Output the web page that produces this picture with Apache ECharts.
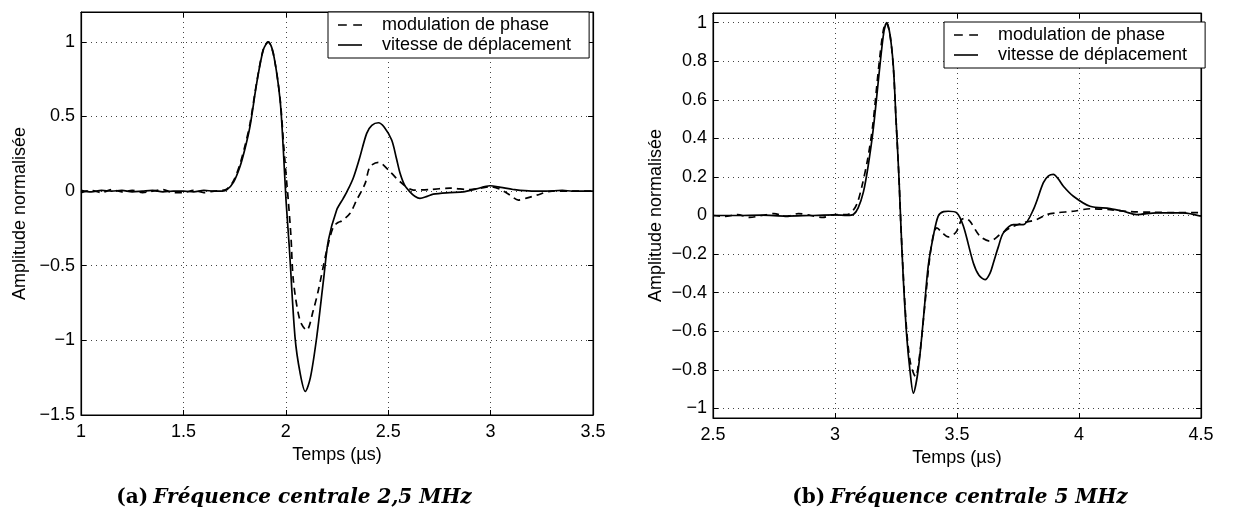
<!DOCTYPE html>
<html>
<head>
<meta charset="utf-8">
<script src="https://cdn.jsdelivr.net/npm/echarts@6/dist/echarts.min.js"></script>
<style>
html,body{margin:0;padding:0;background:#fff;}
#chart{width:1252px;height:516px;}
</style>
</head>
<body>
<div id="chart"></div>
<script>
// ---- Data ----
// (a) 2,5 MHz
const aPhaseTime = [1.0,1.05,1.1,1.15,1.2,1.25,1.3,1.35,1.4,1.45,1.5,1.55,1.6,1.65,1.69,1.713,1.745,1.776,1.8,1.825,1.858,1.89,1.913,1.939,1.972,1.99,2.005,2.012,2.025,2.037,2.069,2.102,2.134,2.159,2.2,2.232,2.255,2.273,2.313,2.346,2.387,2.411,2.452,2.509,2.558,2.623,2.7,2.8,2.9,2.95,3.0,3.05,3.095,3.136,3.18,3.225,3.3,3.4,3.5];
const aPhase = [-0.01,0.005,-0.01,0.01,-0.005,0.005,-0.01,0.0,0.01,-0.01,-0.01,0.005,-0.01,0.0,0.005,0.015,0.07,0.18,0.3,0.45,0.73,0.95,1.0,0.92,0.62,0.3,0.05,-0.06,-0.3,-0.6,-0.866,-0.933,-0.8,-0.664,-0.396,-0.24,-0.21,-0.2,-0.15,-0.06,0.05,0.163,0.193,0.13,0.063,0.007,0.01,0.02,0.01,0.02,0.03,0.01,-0.027,-0.06,-0.045,-0.027,0.0,0.0,0.0];
const aSpeedTime = [1.0,1.05,1.1,1.15,1.2,1.25,1.3,1.35,1.4,1.45,1.5,1.55,1.6,1.65,1.69,1.713,1.745,1.776,1.8,1.825,1.858,1.89,1.915,1.939,1.972,1.988,2.001,2.017,2.045,2.07,2.095,2.12,2.151,2.184,2.208,2.248,2.28,2.3,2.33,2.36,2.395,2.42,2.452,2.48,2.517,2.54,2.558,2.58,2.606,2.63,2.655,2.69,2.72,2.8,2.867,2.93,2.997,3.05,3.11,3.2,3.27,3.35,3.4,3.5];
const aSpeed = [0.005,-0.005,0.005,0.0,0.005,-0.005,0.0,0.005,-0.005,0.0,0.0,-0.005,0.005,0.0,0.0,0.01,0.06,0.163,0.28,0.432,0.723,0.946,1.0,0.924,0.611,0.275,-0.06,-0.374,-0.978,-1.22,-1.342,-1.25,-0.978,-0.597,-0.329,-0.128,-0.05,0.0,0.09,0.22,0.387,0.44,0.458,0.43,0.342,0.22,0.119,0.04,-0.005,-0.035,-0.049,-0.035,-0.02,-0.01,-0.005,0.015,0.036,0.025,0.011,0.0,0.0,0.005,0.0,0.0];
// (b) 5 MHz
const bPhaseTime = [2.5,2.55,2.6,2.65,2.7,2.75,2.8,2.85,2.9,2.95,3.0,3.05,3.07,3.09,3.11,3.135,3.155,3.18,3.198,3.21,3.225,3.239,3.25,3.262,3.27,3.28,3.294,3.31,3.33,3.348,3.369,3.389,3.405,3.417,3.44,3.464,3.485,3.499,3.519,3.535,3.553,3.594,3.635,3.676,3.717,3.772,3.827,3.868,3.909,3.977,4.045,4.127,4.209,4.3,4.4,4.5];
const bPhase = [0.0,-0.005,0.005,-0.01,0.0,0.01,-0.005,0.01,0.0,-0.01,0.005,0.005,0.02,0.06,0.15,0.3,0.47,0.78,0.96,1.0,0.94,0.77,0.5,0.2,-0.05,-0.31,-0.6,-0.77,-0.835,-0.713,-0.454,-0.211,-0.09,-0.064,-0.09,-0.111,-0.1,-0.081,-0.021,-0.015,-0.03,-0.107,-0.133,-0.099,-0.064,-0.038,-0.021,0.005,0.014,0.022,0.035,0.03,0.02,0.017,0.015,0.015];
const bSpeedTime = [2.5,2.6,2.7,2.8,2.9,3.0,3.05,3.075,3.095,3.116,3.135,3.157,3.184,3.2,3.212,3.225,3.239,3.25,3.262,3.27,3.28,3.294,3.307,3.321,3.341,3.362,3.382,3.403,3.423,3.445,3.464,3.499,3.526,3.567,3.59,3.615,3.635,3.649,3.67,3.69,3.731,3.772,3.813,3.854,3.875,3.895,3.915,3.936,3.977,4.045,4.127,4.182,4.236,4.318,4.427,4.5];
const bSpeed = [0.0,0.0,0.002,-0.003,0.0,0.003,0.0,0.005,0.04,0.12,0.25,0.45,0.776,0.95,1.0,0.94,0.776,0.5,0.2,-0.05,-0.33,-0.627,-0.8,-0.921,-0.8,-0.54,-0.263,-0.107,-0.003,0.02,0.022,0.014,-0.055,-0.246,-0.31,-0.333,-0.3,-0.246,-0.16,-0.09,-0.047,-0.047,0.031,0.17,0.205,0.213,0.19,0.152,0.1,0.048,0.036,0.022,0.005,0.014,0.014,-0.004];

// Tick values
const aXTicks = [1, 1.5, 2, 2.5, 3, 3.5];
const aYTicks = [-1.5, -1, -0.5, 0, 0.5, 1];
const bXTicks = [2.5, 3, 3.5, 4, 4.5];
const bYTicks = [-1, -0.8, -0.6, -0.4, -0.2, 0, 0.2, 0.4, 0.6, 0.8, 1];

const seriesNames = ['modulation de phase', 'vitesse de déplacement'];
const xTitle = 'Temps (µs)';
const yTitle = 'Amplitude normalisée';
const captions = [['(a)', 'Fréquence centrale 2,5 MHz'], ['(b)', 'Fréquence centrale 5 MHz']];

// ---- Chart ----
function zip(t, v) { const n = Math.min(t.length, v.length); const r = []; for (let i = 0; i < n; i++) r.push([t[i], v[i]]); return r; }
function fmt(v) { const s = String(Math.round(Math.abs(v) * 1000) / 1000); return (v < 0 ? '\u2212' : '') + s; }

const FONT = "'Liberation Sans', Arial, Helvetica, sans-serif";
const FS = 18;
const dotted = { show: true, lineStyle: { color: '#444', width: 1, type: [1, 4] } };

function xAxisMain(grid, min, max, ticks, nameGap) {
  return {
    gridIndex: grid, type: 'value', position: 'bottom', min: min, max: max, interval: 0.5,
    axisLine: { show: true, onZero: false, lineStyle: { color: '#000', width: 1.2 } },
    axisTick: { show: true, inside: true, length: 5, customValues: ticks, lineStyle: { color: '#000' } },
    axisLabel: { show: true, customValues: ticks, formatter: fmt, color: '#000', fontFamily: FONT, fontSize: FS, margin: 8, showMinLabel: true, showMaxLabel: true },
    splitLine: dotted,
    name: xTitle, nameLocation: 'middle', nameGap: nameGap,
    nameTextStyle: { color: '#000', fontFamily: FONT, fontSize: FS }
  };
}
function xAxisTop(grid, min, max, ticks) {
  return {
    gridIndex: grid, type: 'value', position: 'top', min: min, max: max, interval: 0.5,
    axisLine: { show: true, onZero: false, lineStyle: { color: '#000', width: 1.2 } },
    axisTick: { show: true, inside: true, length: 5, customValues: ticks, lineStyle: { color: '#000' } },
    axisLabel: { show: false }, splitLine: { show: false }
  };
}
function yAxisMain(grid, min, max, ticks, nameGap) {
  return {
    gridIndex: grid, type: 'value', position: 'left', min: min, max: max,
    axisLine: { show: true, onZero: false, lineStyle: { color: '#000', width: 1.2 } },
    axisTick: { show: true, inside: true, length: 5, customValues: ticks, lineStyle: { color: '#000' } },
    axisLabel: { show: true, customValues: ticks, formatter: fmt, color: '#000', fontFamily: FONT, fontSize: FS, margin: 6 },
    splitLine: dotted,
    name: yTitle, nameLocation: 'middle', nameGap: nameGap,
    nameTextStyle: { color: '#000', fontFamily: FONT, fontSize: FS }
  };
}
function yAxisRight(grid, min, max, ticks) {
  return {
    gridIndex: grid, type: 'value', position: 'right', min: min, max: max,
    axisLine: { show: true, onZero: false, lineStyle: { color: '#000', width: 1.2 } },
    axisTick: { show: true, inside: true, length: 5, customValues: ticks, lineStyle: { color: '#000' } },
    axisLabel: { show: false }, splitLine: { show: false }
  };
}
function lineSeries(name, data, xi, yi, dashed) {
  return {
    name: name, type: 'line', data: data, xAxisIndex: xi, yAxisIndex: yi,
    symbol: 'none', smooth: 0.3, animation: false, z: 3,
    color: '#000',
    lineStyle: { color: '#000', width: 1.7, type: dashed ? [7, 5] : 'solid' }
  };
}
function legendAt(left, top) {
  return {
    left: left, top: top, orient: 'vertical', itemWidth: 30, itemHeight: 1.6, itemGap: 2,
    padding: [4, 18, 4, 10], borderColor: '#000', borderWidth: 1, backgroundColor: '#fff',
    selectedMode: false,
    itemStyle: { color: '#000', borderWidth: 0 },
    textStyle: { color: '#000', fontFamily: FONT, fontSize: FS, padding: [0, 0, 0, 12] },
    data: [
      { name: seriesNames[0], icon: 'path://M0,0h11v2h-11zM19,0h11v2h-11z' },
      { name: seriesNames[1], icon: 'path://M0,0h30v2h-30z' }
    ]
  };
}
function caption(c, centerX) {
  return {
    text: '{a|' + c[0] + '} {b|' + c[1] + '}', left: centerX, top: 488, textAlign: 'center', padding: 0,
    textStyle: {
      rich: {
        a: { fontFamily: "'DejaVu Serif', serif", fontWeight: 'bold', fontStyle: 'normal', fontSize: 20, color: '#000' },
        b: { fontFamily: "'DejaVu Serif', serif", fontWeight: 'bold', fontStyle: 'italic', fontSize: 20, color: '#000' }
      }
    }
  };
}

const option = {
  backgroundColor: '#fff',
  animation: false,
  title: [caption(captions[0], 294), caption(captions[1], 960)],
  grid: [
    { left: 81, top: 12, width: 512, height: 403, show: true, borderColor: '#000', borderWidth: 1, backgroundColor: 'transparent' },
    { left: 713, top: 13, width: 488, height: 405, show: true, borderColor: '#000', borderWidth: 1, backgroundColor: 'transparent' }
  ],
  xAxis: [
    xAxisMain(0, 1, 3.5, aXTicks, 28), xAxisTop(0, 1, 3.5, aXTicks),
    xAxisMain(1, 2.5, 4.5, bXTicks, 25), xAxisTop(1, 2.5, 4.5, bXTicks)
  ],
  yAxis: [
    yAxisMain(0, -1.5, 1.2, aYTicks, 52), yAxisRight(0, -1.5, 1.2, aYTicks),
    yAxisMain(1, -1.05, 1.05, bYTicks, 48), yAxisRight(1, -1.05, 1.05, bYTicks)
  ],
  legend: [legendAt(328, 12), legendAt(944, 22)],
  series: [
    lineSeries(seriesNames[0], zip(aPhaseTime, aPhase), 0, 0, true),
    lineSeries(seriesNames[1], zip(aSpeedTime, aSpeed), 0, 0, false),
    lineSeries(seriesNames[0], zip(bPhaseTime, bPhase), 2, 2, true),
    lineSeries(seriesNames[1], zip(bSpeedTime, bSpeed), 2, 2, false)
  ]
};

const chart = echarts.init(document.getElementById('chart'), null, { renderer: 'canvas' });
chart.setOption(option);
</script>
</body>
</html>
